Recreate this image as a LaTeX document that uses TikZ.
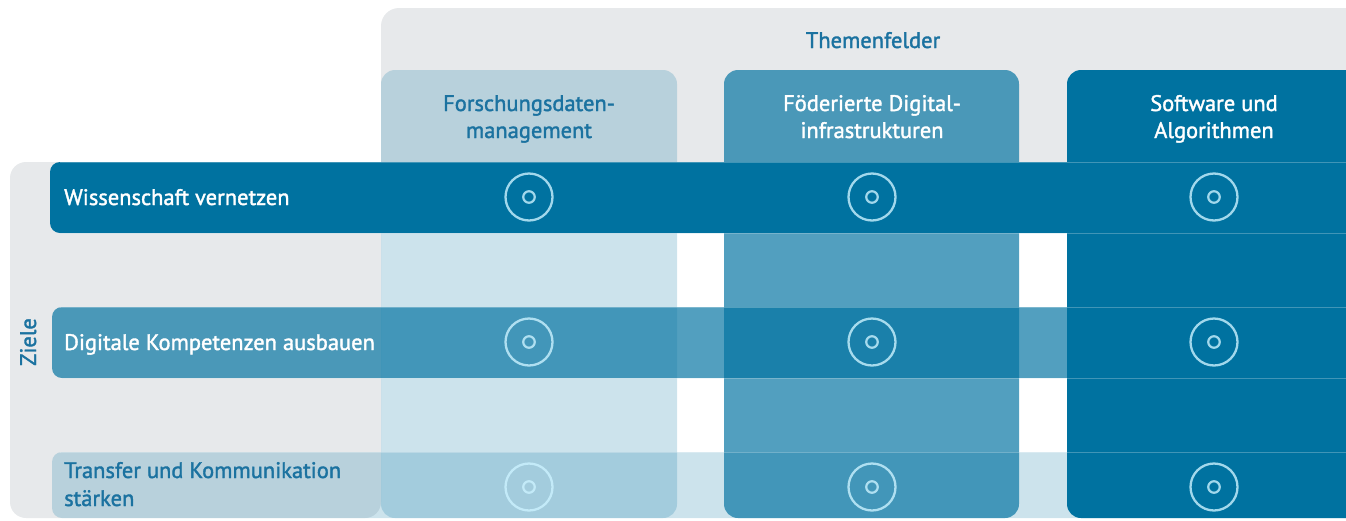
\documentclass[tikz,border=0pt]{standalone}
\usepackage{fontspec}
\setmainfont{PT Sans}
\newfontfamily\medfont{PT Sans}[FakeBold=1.6]
\definecolor{bund}{HTML}{0072A0}
\definecolor{panel}{HTML}{E7E9EB}
\definecolor{txtblue}{HTML}{1B72A0}
\definecolor{ringcol}{HTML}{CBF2FF}
\begin{document}
\begin{tikzpicture}[x=1pt,y=-1pt,
  rowtxt/.style={font=\medfont\fontsize{22.5}{28}\selectfont, anchor=base west, inner sep=0pt, align=left},
  headtxt/.style={font=\medfont\fontsize{22.5}{27}\selectfont, anchor=base, inner sep=0pt, align=center},
  ring/.style={circle, draw=ringcol, draw opacity=0.8, line width=2.3pt, minimum size=47pt, inner sep=0pt},
  dot/.style={circle, draw=ringcol, draw opacity=0.8, line width=2.2pt, minimum size=11.5pt, inner sep=0pt},
  edge/.style={white, opacity=0.25, line width=0.8pt}]
\useasboundingbox (0,0) rectangle (1346,520);
\clip (0,0) rectangle (1346,520);
% grey panels
\fill[panel, rounded corners=18pt] (381,8) rectangle (1420,200);
\fill[panel, rounded corners=16pt] (10,162) rectangle (381,518);
% columns
\fill[bund, opacity=0.2, rounded corners=14pt] (381,70) rectangle (677,518);
\fill[bund, opacity=0.68, rounded corners=14pt] (724,70) rectangle (1019,518);
\fill[bund, rounded corners=14pt] (1067,70) rectangle (1420,518);
% rows
\fill[bund, rounded corners=10pt] (50,162) rectangle (1420,233);
\fill[bund, opacity=0.68, rounded corners=10pt] (52,307) rectangle (1420,378);
\fill[bund, opacity=0.2, rounded corners=10pt] (52,452) rectangle (1420,518);
\foreach \yy in {162,233,307,378,452}{\draw[edge] (60,\yy) -- (1346,\yy);}
% texts
\node[font=\medfont\fontsize{22.5}{27}\selectfont, text=txtblue, anchor=base, inner sep=0pt] (themen) at (873,48) {Themenfelder};
\node[headtxt, text=txtblue] (h1) at (529,138) {Forschungsdaten-\\management};
\node[headtxt, text=white] (h2) at (872,138) {Föderierte Digital-\\infrastrukturen};
\node[headtxt, text=white] (h3) at (1214,138) {Software und\\Algorithmen};
\node[font=\medfont\fontsize{22.5}{27}\selectfont, text=txtblue, rotate=90, anchor=base, inner sep=0pt] (ziele) at (36,342) {Ziele};
\node[rowtxt, text=white] (r1) at (64,205) {Wissenschaft vernetzen};
\node[rowtxt, text=white] (r2) at (64,350) {Digitale Kompetenzen ausbauen};
\node[rowtxt, text=txtblue] (r3) at (64,506) {Transfer und Kommunikation\\stärken};
% rings
\foreach \cx [count=\i] in {529,872,1214}{
  \foreach \cy [count=\j] in {197,342,487}{
    \node[ring] (ring\i\j) at (\cx,\cy) {};
    \node[dot] (dot\i\j) at (\cx,\cy) {};
  }
}
\end{tikzpicture}
\end{document}
